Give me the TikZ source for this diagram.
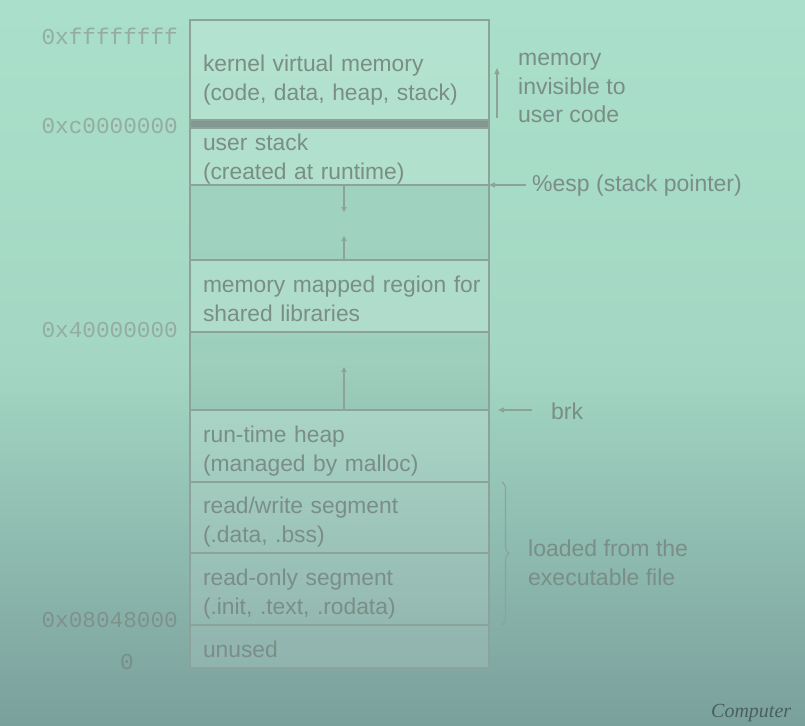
\documentclass[tikz,border=0pt]{standalone}
\usepackage{fontspec}
\setmainfont{Liberation Sans}
\setmonofont{Liberation Mono}
\newfontfamily\footfont{Liberation Serif}
\usetikzlibrary{arrows.meta, positioning, calc, decorations.pathreplacing}
\definecolor{bgtop}{RGB}{170,224,203}
\definecolor{bgmid}{RGB}{163,215,195}
\definecolor{bgbot}{RGB}{122,160,156}
\definecolor{linegray}{RGB}{140,162,155}
\definecolor{txtgray}{RGB}{122,142,135}
\definecolor{addrgray}{RGB}{148,172,164}
\definecolor{bargray}{RGB}{132,152,146}

\begin{document}
\begin{tikzpicture}[
    x=1pt, y=-1pt,
    region/.style={draw=linegray, line width=1.3pt, outer sep=0pt, inner xsep=0pt, inner ysep=0pt,
                   minimum width=299pt, text width=295pt, align=left,
                   font=\fontsize{22.8}{29}\selectfont, text=txtgray, fill=white, fill opacity=0.12,
                   text opacity=1},
    seg/.style={region, execute at begin node={\leftskip=11pt\rule{0pt}{#1}}},
    seg/.default=26pt,
    gap/.style={region, fill=black, fill opacity=0.035},
    addr/.style={anchor=east, font=\ttfamily\fontsize{22.7}{26}\selectfont, text=addrgray, inner sep=0pt},
    side/.style={anchor=west, align=left, font=\fontsize{23}{28.5}\selectfont, text=txtgray, inner sep=0pt},
    growarr/.style={-{Triangle[length=5pt,width=5pt]}, line width=1.1pt, draw=linegray},
    ptr/.style={-{Triangle[length=6pt,width=5pt]}, line width=1.1pt, draw=linegray}
]
  % background
  \useasboundingbox (0,0) rectangle (805,725);
  \shade[top color=bgtop, bottom color=bgbot, middle color=bgmid] (0,0) rectangle (805,725);

  % Segments
  \node[seg=29pt, minimum height=108pt, anchor=north west] (kernel) at (190,20)
    {kernel virtual memory\\(code, data, heap, stack)};
  \node[seg=22pt, minimum height=57pt, below=0pt of kernel] (ustack)
    {user stack\\(created at runtime)};
  \node[region, fill=bargray, fill opacity=1, minimum height=8pt, above=0pt of ustack] (bar) {};
  \node[gap, minimum height=75pt, below=0pt of ustack] (gapA) {};
  \node[seg=22pt, minimum height=72pt, below=0pt of gapA] (mmap)
    {memory mapped region for\\shared libraries};
  \node[gap, minimum height=78pt, below=0pt of mmap] (gapB) {};
  \node[seg, minimum height=72pt, below=0pt of gapB] (heap)
    {run-time heap\\(managed by malloc)};
  \node[seg, minimum height=71pt, below=0pt of heap] (rwseg)
    {read/write segment\\(.data, .bss)};
  \node[seg, minimum height=72pt, below=0pt of rwseg] (roseg)
    {read-only segment\\(.init, .text, .rodata)};
  \node[seg=22pt, minimum height=43pt, below=0pt of roseg] (unused) {unused};

  % Addresses
  \node[addr] (atop) at (178,36) {0xffffffff};
  \node[addr] (akern) at (178,126) {0xc0000000};
  \node[addr] (ashared) at (178,330) {0x40000000};
  \node[addr, text=addrgray!85!black] (atext) at (178,620) {0x08048000};
  \node[addr, anchor=center, text=txtgray] (azero) at (127,662) {0};

  % Growth arrows
  \coordinate (stackend) at ($(gapA.north)+(4.5,27)$);
  \coordinate (mmapend) at ($(mmap.north)+(4.5,-24)$);
  \coordinate (heapend) at ($(heap.north)+(4.5,-43)$);
  \draw[growarr] ([xshift=4.5pt]gapA.north) -- (stackend);
  \draw[growarr] ([xshift=4.5pt]mmap.north) -- (mmapend);
  \draw[growarr] ([xshift=4.5pt]heap.north) -- (heapend);

  % Annotations
  \node[side] (invis) at (518,88) {memory\\invisible to\\user code};
  \coordinate (kbot) at ($(kernel.south east)+(8,-10)$);
  \coordinate (ktop) at ($(kernel.north east)+(8,48)$);
  \draw[ptr] (kbot) -- (ktop);

  \node[side] (esp) at (532,186) {\%esp (stack pointer)};
  \draw[ptr] ([xshift=-6pt]esp.west |- ustack.south) -- (ustack.south east);

  \node[side] (brk) at (551,411) {brk};
  \coordinate (brkend) at ($(heap.north east)+(9,0)$);
  \draw[ptr] ($(brkend)+(34,0)$) -- (brkend);

  \draw[decorate, decoration={brace, amplitude=7pt}, line width=1.1pt, draw=linegray]
    ([xshift=13pt]rwseg.north east) -- ([xshift=13pt]roseg.south east);
  \node[side] (loaded) at (528,563) {loaded from the\\executable file};

  % slide footer
  \node[anchor=west, font=\footfont\itshape\fontsize{20}{22}\selectfont, text=bgbot!60!black, inner sep=0pt]
    (foot) at (711,713) {Computer};
\end{tikzpicture}
\end{document}
